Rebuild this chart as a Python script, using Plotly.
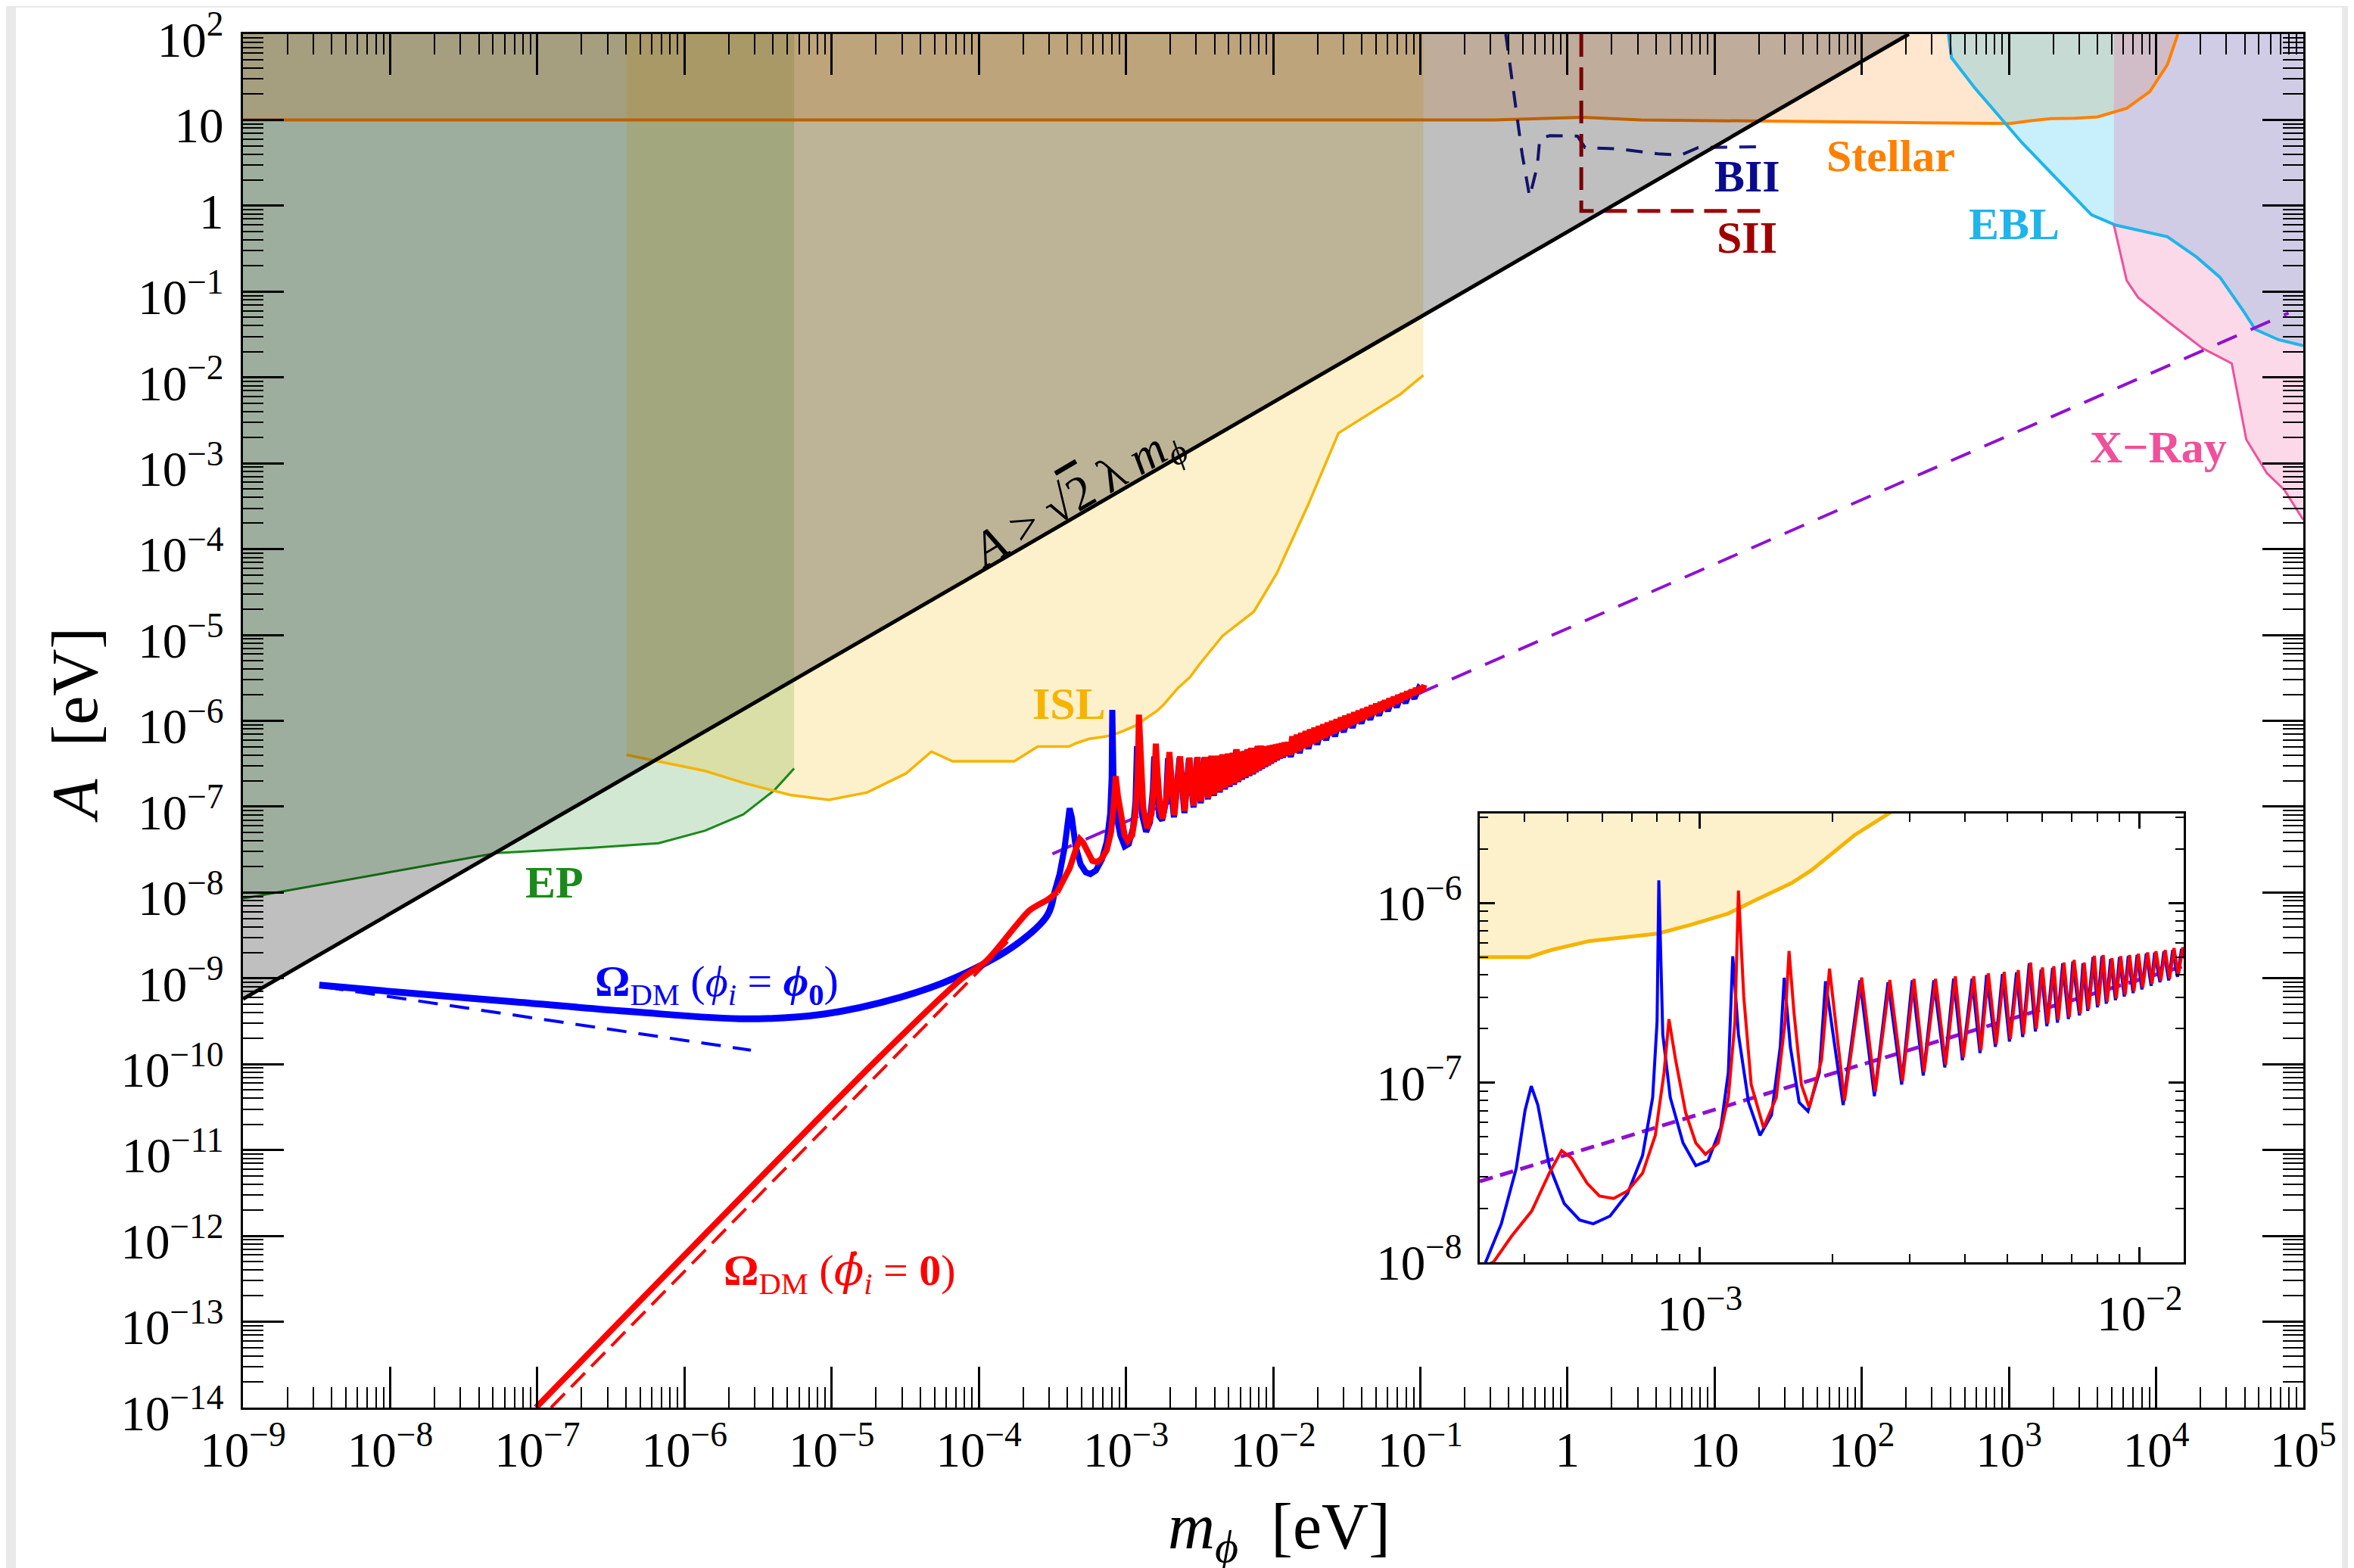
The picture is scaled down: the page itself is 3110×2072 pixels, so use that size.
import numpy as np
import plotly.graph_objects as go

# ---------------- data (log10 values) ----------------
BOUND_LOG_M = [-9.0, 2.32]
BOUND_LOG_A = [-9.24, 2.0]

EP_LOG_M = [-9.0, -7.277, -6.647, -6.176, -5.86, -5.60, -5.39, -5.255]
EP_LOG_A = [-8.07, -7.54, -7.48, -7.425, -7.28, -7.09, -6.81, -6.555]

ISL_LOG_M = [-6.394, -6.172, -5.859, -5.597, -5.281, -5.019, -4.758, -4.494, -4.322, -4.178,
             -3.759, -3.60, -3.388, -3.337, -3.25, -3.164, -3.096, -3.021, -2.935, -2.877,
             -2.791, -2.746, -2.648, -2.564, -2.502, -2.343, -2.131, -1.974, -1.765, -1.556,
             -1.138, -0.979]
ISL_LOG_A = [-6.397, -6.472, -6.584, -6.724, -6.864, -6.922, -6.834, -6.612, -6.359, -6.472,
             -6.472, -6.30, -6.30, -6.26, -6.21, -6.19, -6.169, -6.12, -6.057, -5.987,
             -5.887, -5.816, -5.62, -5.49, -5.345, -5.010, -4.728, -4.279, -3.495, -2.649,
             -2.198, -1.974]

STELLAR_LOG_M = [-9.0, -0.5, 0.1, 0.5, 2.0, 2.85, 3.007, 3.15, 3.284, 3.45, 3.603, 3.80, 3.957, 4.077, 4.148]
STELLAR_LOG_A = [1.0, 1.0, 1.03, 1.0, 0.975, 0.96, 0.957, 0.99, 1.016, 1.02, 1.035, 1.135, 1.33, 1.645, 2.0]

EBL_LOG_M = [2.589, 2.61, 2.769, 2.927, 3.086, 3.284, 3.443, 3.561, 3.72, 4.077, 4.275, 4.434, 4.593, 4.674, 4.832, 5.0]
EBL_LOG_A = [2.0, 1.724, 1.371, 1.056, 0.740, 0.387, 0.111, -0.106, -0.223, -0.361, -0.597, -0.833, -1.226, -1.44, -1.561, -1.63]

XRAY_LOG_M = [3.713, 3.713, 3.80, 3.878, 4.077, 4.315, 4.514, 4.613, 4.753, 4.872, 5.0]
XRAY_LOG_A = [2.0, -0.223, -0.871, -1.069, -1.345, -1.66, -1.836, -2.722, -3.115, -3.311, -3.66]

BII_LOG_M = [-0.419, -0.342, -0.308, -0.257, -0.205, -0.188, -0.12, 0.068, 0.12, 0.342, 0.616, 0.77, 0.889, 1.317]
BII_LOG_A = [2.0, 1.075, 0.605, 0.106, 0.458, 0.781, 0.817, 0.811, 0.678, 0.663, 0.605, 0.590, 0.678, 0.687]

SII_LOG_M = [0.094, 0.094, 1.334]
SII_LOG_A = [2.0, -0.06, -0.06]

PURPLE_LOG_M = [-3.50, 4.90]
PURPLE_LOG_A = [-7.55, -1.25]

BLUE_DASH_LOG_M = [-8.45, -5.549]
BLUE_DASH_LOG_A = [-9.10, -9.837]

RED_DASH_LOG_M = [-6.907, -3.78]
RED_DASH_LOG_A = [-14.0, -8.53]

# smooth (non-oscillating) parts of the two relic-abundance curves
BLUE_SMOOTH_LOG_M = [-8.482, -7.932, -7.147, -6.362, -5.576, -5.052, -4.529, -4.162, -3.743, -3.534, -3.49]
BLUE_SMOOTH_LOG_A = [-9.078, -9.163, -9.275, -9.388, -9.472, -9.416, -9.219, -8.995, -8.601, -8.264, -8.02]
RED_SMOOTH_LOG_M = [-7.009, -4.686, -4.11, -3.951, -3.743, -3.653, -3.53, -3.468]
RED_SMOOTH_LOG_A = [-14.0, -9.938, -8.995, -8.80, -8.376, -8.205, -8.08, -7.997]

# oscillating parts
BLUE_OSC_LOG_M = [-3.49,
              -3.451, -3.417, -3.397, -3.383, -3.368, -3.342, -3.308, -3.273, -3.242, -3.204, -3.164,
              -3.13, -3.107, -3.097, -3.093, -3.084, -3.067, -3.038, -3.009, -2.981, -2.952, -2.935,
              -2.925, -2.912, -2.889, -2.863, -2.837, -2.817, -2.808, -2.794, -2.774, -2.754, -2.728,
              -2.714, -2.674, -2.636, -2.603, -2.572, -2.541, -2.517, -2.492, -2.468, -2.443, -2.423,
              -2.403, -2.381, -2.363, -2.348, -2.328, -2.312, -2.296, -2.28, -2.266, -2.251, -2.237,
              -2.224, -2.211, -2.198, -2.187, -2.175, -2.162, -2.152, -2.137, -2.129, -2.118, -2.106,
              -2.096, -2.086, -2.076, -2.066, -2.055, -2.046, -2.035, -2.026, -2.015, -2.006, -1.995,
              -1.985, -1.974, -1.966, -1.954, -1.945, -1.934, -1.925, -1.914, -1.905,
              -1.88, -1.85, -1.82, -1.79, -1.76, -1.73, -1.70, -1.67, -1.64, -1.61, -1.58, -1.55,
              -1.52, -1.49, -1.46, -1.43, -1.40, -1.37, -1.34, -1.31, -1.28, -1.25, -1.22, -1.19,
              -1.16, -1.13, -1.10, -1.07, -1.04, -1.01, -0.985]
BLUE_OSC_LOG_A = [-8.02,
              -7.786, -7.476, -7.153, -7.019, -7.124, -7.462, -7.673, -7.765, -7.786, -7.743, -7.617,
              -7.406, -7.082, -6.66, -5.872, -6.731, -7.082, -7.335, -7.462, -7.434, -7.251, -6.942,
              -6.295, -6.731, -7.11, -7.293, -7.181, -6.801, -6.415, -6.801, -7.11, -7.159, -6.942,
              -6.435, -7.124, -6.43, -7.075, -6.44, -7.01, -6.43, -6.96, -6.43, -6.915, -6.42,
              -6.875, -6.42, -6.835, -6.40, -6.80, -6.395, -6.77, -6.385, -6.745, -6.335, -6.715,
              -6.37, -6.685, -6.36, -6.665, -6.335, -6.645, -6.325, -6.625, -6.335, -6.60, -6.30,
              -6.58, -6.295, -6.56, -6.31, -6.54, -6.30, -6.52, -6.295, -6.50, -6.288, -6.48,
              -6.28, -6.46, -6.275, -6.44, -6.268, -6.43, -6.26, -6.41, -6.255,
              -6.42, -6.19, -6.375, -6.15, -6.325, -6.11, -6.275, -6.07, -6.225, -6.03, -6.18, -5.99,
              -6.13, -5.95, -6.08, -5.91, -6.03, -5.87, -5.985, -5.83, -5.935, -5.78, -5.885, -5.74,
              -5.84, -5.70, -5.79, -5.66, -5.74, -5.62, -5.66]

RED_OSC_LOG_M = [-3.468, -3.428, -3.382, -3.342,
             -3.314, -3.291, -3.256, -3.228, -3.196, -3.164, -3.13, -3.101, -3.081, -3.07, -3.055,
             -3.032, -3.009, -2.987, -2.958, -2.935, -2.92, -2.912, -2.9, -2.883, -2.855, -2.826,
             -2.806, -2.797, -2.786, -2.769, -2.751, -2.723, -2.705, -2.671, -2.632, -2.601, -2.568,
             -2.539, -2.513, -2.49, -2.464, -2.441, -2.419, -2.401, -2.377, -2.361, -2.344, -2.326,
             -2.308, -2.294, -2.276, -2.264, -2.248, -2.235, -2.221, -2.209, -2.195, -2.185, -2.172,
             -2.16, -2.149, -2.135, -2.126, -2.116, -2.103, -2.094, -2.083, -2.074, -2.063, -2.053,
             -2.043, -2.033, -2.023, -2.013, -2.003, -1.993, -1.982, -1.972, -1.963, -1.952, -1.942,
             -1.932, -1.922, -1.912, -1.902,
             -1.885, -1.870, -1.855, -1.840, -1.825, -1.810, -1.795, -1.780, -1.765, -1.750,
             -1.735, -1.720, -1.705, -1.690, -1.675, -1.660, -1.645, -1.630, -1.615, -1.600,
             -1.585, -1.570, -1.555, -1.540, -1.525, -1.510, -1.495, -1.480, -1.465, -1.450,
             -1.435, -1.420, -1.405, -1.390, -1.375, -1.360, -1.345, -1.330, -1.315, -1.300,
             -1.285, -1.270, -1.255, -1.240, -1.225, -1.210, -1.195, -1.180, -1.165, -1.150,
             -1.135, -1.120, -1.105, -1.090, -1.075, -1.060, -1.045, -1.030, -1.015, -1.000,
             -0.985, -0.973]
RED_OSC_LOG_A = [-7.997, -7.856, -7.715, -7.504,
             -7.378, -7.42, -7.56, -7.631, -7.645, -7.603, -7.504, -7.293, -6.942, -6.646, -6.871,
             -7.167, -7.335, -7.399, -7.335, -7.082, -6.66, -5.929, -6.519, -7.011, -7.251, -7.082,
             -6.66, -6.266, -6.603, -7.011, -7.138, -6.871, -6.364, -7.10, -6.414, -7.05, -6.428,
             -6.99, -6.421, -6.94, -6.421, -6.90, -6.407, -6.86, -6.407, -6.82, -6.39, -6.785,
             -6.382, -6.755, -6.372, -6.73, -6.33, -6.70, -6.358, -6.67, -6.351, -6.65, -6.33,
             -6.635, -6.316, -6.615, -6.33, -6.59, -6.292, -6.57, -6.288, -6.55, -6.306, -6.53,
             -6.295, -6.51, -6.288, -6.49, -6.281, -6.47, -6.274, -6.45, -6.267, -6.43, -6.26,
             -6.42, -6.25, -6.40, -6.246,
             -6.40, -6.18, -6.37, -6.16, -6.35, -6.14, -6.32, -6.12, -6.30, -6.10,
             -6.27, -6.08, -6.25, -6.06, -6.22, -6.04, -6.20, -6.02, -6.17, -6.00,
             -6.15, -5.98, -6.12, -5.96, -6.10, -5.94, -6.08, -5.92, -6.05, -5.90,
             -6.03, -5.88, -6.00, -5.86, -5.98, -5.84, -5.95, -5.82, -5.93, -5.80,
             -5.90, -5.78, -5.88, -5.76, -5.85, -5.74, -5.83, -5.72, -5.80, -5.70,
             -5.78, -5.68, -5.75, -5.66, -5.73, -5.64, -5.70, -5.62, -5.68, -5.60,
             -5.65, -5.58]

MAIN_X_RANGE = [-9.0003, 5.0003]
MAIN_Y_RANGE = [-14.0003, 2.0003]
INSET_X_RANGE = [-3.5, -1.9]
INSET_Y_RANGE = [-8.0003, -5.5]

LABELS = [  # text, log m, log A, colour
    ("<b>Stellar</b>", 2.196, 0.577, "#ff8000"),
    ("<b>BII</b>", 1.22, 0.344, "#0a0a90"),
    ("<b>SII</b>", 1.22, -0.37, "#a00000"),
    ("<b>EBL</b>", 3.037, -0.211, "#1fb4ea"),
    ("<b>X\u2212Ray</b>", 4.017, -2.815, "#f0509a"),
    ("<b>ISL</b>", -3.386, -5.806, "#f5b400"),
    ("<b>EP</b>", -6.886, -7.885, "#1a8a1a"),
]

# ---------------- helpers ----------------
def p10(a):
    return np.power(10.0, np.asarray(a, dtype=float))

FONT = "Liberation Serif"
PHI = "\u03d5"

def closed(mx, ay, extra_m, extra_a):
    return p10(list(mx) + extra_m), p10(list(ay) + extra_a)

fig = go.Figure()

def add(x, y, xa="x", ya="y", **kw):
    fig.add_trace(go.Scatter(x=x, y=y, xaxis=xa, yaxis=ya, showlegend=False,
                             hoverinfo="skip", **kw))

# ---- filled regions (main) ----
ep_x, ep_y = closed(EP_LOG_M, EP_LOG_A, [EP_LOG_M[-1], EP_LOG_M[0]], [2.0, 2.0])
add(ep_x, ep_y, mode="lines", fill="toself", fillcolor="rgba(34,139,34,0.20)", line=dict(width=0))
isl_x, isl_y = closed(ISL_LOG_M, ISL_LOG_A, [ISL_LOG_M[-1], ISL_LOG_M[0]], [2.0, 2.0])
add(isl_x, isl_y, mode="lines", fill="toself", fillcolor="rgba(245,190,20,0.22)", line=dict(width=0))
st_x, st_y = closed(STELLAR_LOG_M, STELLAR_LOG_A, [STELLAR_LOG_M[0]], [2.0])
add(st_x, st_y, mode="lines", fill="toself", fillcolor="rgba(255,140,30,0.22)", line=dict(width=0))
ebl_x, ebl_y = closed(EBL_LOG_M, EBL_LOG_A, [5.0], [2.0])
add(ebl_x, ebl_y, mode="lines", fill="toself", fillcolor="rgba(0,180,240,0.22)", line=dict(width=0))
xr_x, xr_y = closed(XRAY_LOG_M, XRAY_LOG_A, [5.0], [2.0])
add(xr_x, xr_y, mode="lines", fill="toself", fillcolor="rgba(240,80,154,0.22)", line=dict(width=0))

# ---- boundary lines ----
add(p10(EP_LOG_M), p10(EP_LOG_A), mode="lines", line=dict(color="#1a8a1a", width=3))
add(p10(ISL_LOG_M), p10(ISL_LOG_A), mode="lines", line=dict(color="#f5b400", width=3.5))
add(p10(STELLAR_LOG_M), p10(STELLAR_LOG_A), mode="lines", line=dict(color="#ff8000", width=4))
add(p10(EBL_LOG_M), p10(EBL_LOG_A), mode="lines", line=dict(color="#1fb4ea", width=4))
add(p10(XRAY_LOG_M[1:]), p10(XRAY_LOG_A[1:]), mode="lines", line=dict(color="#f0509a", width=3))
add(p10(BII_LOG_M), p10(BII_LOG_A), mode="lines", line=dict(color="#1a1a8c", width=4, dash="22px,16px"))
add(p10(SII_LOG_M), p10(SII_LOG_A), mode="lines", line=dict(color="#a00000", width=5, dash="30px,14px"))

# ---- excluded region A > sqrt(2) lambda m ----
gx, gy = closed(BOUND_LOG_M, BOUND_LOG_A, [BOUND_LOG_M[0]], [2.0])
add(gx, gy, mode="lines", fill="toself", fillcolor="rgba(0,0,0,0.25)", line=dict(width=0))
add(p10(BOUND_LOG_M), p10(BOUND_LOG_A), mode="lines", line=dict(color="black", width=5))

# ---- purple scaling line and analytic dashed lines ----
add(p10(PURPLE_LOG_M), p10(PURPLE_LOG_A), mode="lines", line=dict(color="#9010d0", width=4, dash="28px,20px"))
add(p10(BLUE_DASH_LOG_M), p10(BLUE_DASH_LOG_A), mode="lines", line=dict(color="#0000ff", width=4, dash="26px,16px"))
add(p10(RED_DASH_LOG_M), p10(RED_DASH_LOG_A), mode="lines", line=dict(color="#ff0000", width=4, dash="26px,12px"))

# ---- relic abundance curves ----
add(p10(BLUE_SMOOTH_LOG_M), p10(BLUE_SMOOTH_LOG_A), mode="lines",
    line=dict(color="#0000ff", width=9, shape="spline", smoothing=1.0))
add(p10(BLUE_OSC_LOG_M), p10(BLUE_OSC_LOG_A), mode="lines", line=dict(color="#0000ff", width=8))
add(p10(RED_SMOOTH_LOG_M), p10(RED_SMOOTH_LOG_A), mode="lines",
    line=dict(color="#ff0000", width=8, shape="spline", smoothing=0.8))
add(p10(RED_OSC_LOG_M), p10(RED_OSC_LOG_A), mode="lines", line=dict(color="#ff0000", width=8))

# ---- inset ----
add(isl_x, isl_y, "x2", "y2", mode="lines", fill="toself", fillcolor="rgba(245,190,20,0.22)", line=dict(width=0))
add(p10(ISL_LOG_M), p10(ISL_LOG_A), "x2", "y2", mode="lines", line=dict(color="#f5b400", width=5))
add(p10(PURPLE_LOG_M), p10(PURPLE_LOG_A), "x2", "y2", mode="lines", line=dict(color="#9010d0", width=5, dash="18px,10px"))
add(p10(BLUE_SMOOTH_LOG_M), p10(BLUE_SMOOTH_LOG_A), "x2", "y2", mode="lines", line=dict(color="#0000ff", width=4))
add(p10(BLUE_OSC_LOG_M), p10(BLUE_OSC_LOG_A), "x2", "y2", mode="lines", line=dict(color="#0000ff", width=4))
add(p10(RED_SMOOTH_LOG_M), p10(RED_SMOOTH_LOG_A), "x2", "y2", mode="lines", line=dict(color="#ff0000", width=4))
add(p10(RED_OSC_LOG_M), p10(RED_OSC_LOG_A), "x2", "y2", mode="lines", line=dict(color="#ff0000", width=4))

# ---------------- layout ----------------
def axis(rng, ticklen, minorlen, size, **kw):
    return dict(type="log", range=rng, dtick=1, tick0=0, exponentformat="power",
                showgrid=False, zeroline=False, showline=True, linecolor="black", linewidth=3,
                mirror="allticks", ticks="inside", ticklen=ticklen, tickwidth=2.5, tickcolor="black",
                ticklabeloverflow="allow", automargin=False,
                minor=dict(ticks="inside", ticklen=minorlen, tickwidth=1.8, tickcolor="black",
                           dtick="D1", showgrid=False),
                tickfont=dict(family=FONT, size=size, color="black"), **kw)

W, H = 3110, 2072
SHIFT = 8                       # page body offset of the rendered figure
PL, PT, PW, PH = 321, 45, 2722, 1815   # target plot-area box on screen
L, T = PL - SHIFT, PT - SHIFT
R, B = W - L - PW, H - T - PH

def px_x(px):
    return (px - PL) / PW

def px_y(py):
    return (PT + PH - py) / PH

fig.update_layout(
    width=W, height=H,
    margin=dict(l=L, r=R, t=T, b=B, autoexpand=False),
    paper_bgcolor="#e9e9e9", plot_bgcolor="white",
    font=dict(family=FONT, color="black"),
    xaxis=axis(MAIN_X_RANGE, 54, 27, 52, domain=[0, 1], anchor="y", ticklabelstandoff=0),
    yaxis=axis(MAIN_Y_RANGE, 54, 27, 52, domain=[0, 1], anchor="x", ticklabelstandoff=12,
               ticklabelshift=7),
    xaxis2=axis(INSET_X_RANGE, 20, 11, 52, domain=[px_x(1955), px_x(2885)], anchor="y2",
                ticklabelstandoff=12),
    yaxis2=axis(INSET_Y_RANGE, 20, 11, 52, domain=[px_y(1668), px_y(1075)], anchor="x2",
                ticklabelstandoff=10),
    shapes=[dict(type="rect", xref="paper", yref="paper", layer="below",
                 x0=px_x(21), x1=px_x(3094), y0=px_y(2090), y1=px_y(10),
                 fillcolor="white", line=dict(width=0))],
)

DOT_PHI = "<span style='font-family:DejaVu Serif'>" + PHI + "\u0307</span>"

ann = []
for text, lm, la, col in LABELS:
    ann.append(dict(x=lm, y=la, xref="x", yref="y", text=text, showarrow=False,
                    xanchor="center", yanchor="middle",
                    font=dict(family=FONT, size=60, color=col)))
ann.append(dict(x=-3.33, y=-3.40, xref="x", yref="y", showarrow=False, textangle=-30.5,
                xanchor="center", yanchor="middle",
                text="<i>A</i> > √<span style='text-decoration:overline'>2</span> λ <i>m</i><sub><i>" + PHI + "</i></sub>",
                font=dict(family=FONT, size=64, color="black")))
ann.append(dict(x=-5.78, y=-9.07, xref="x", yref="y", showarrow=False,
                xanchor="center", yanchor="middle",
                text="<b>Ω</b><sub>DM</sub> (<i>" + PHI + "<sub>i</sub></i> = <b><i>" + PHI + "</i><sub>0</sub></b>)",
                font=dict(family=FONT, size=58, color="#0000ff")))
ann.append(dict(x=-4.947, y=-12.43, xref="x", yref="y", showarrow=False,
                xanchor="center", yanchor="middle",
                text="<b>Ω</b><sub>DM</sub> (<i>" + DOT_PHI + "<sub>i</sub></i> = <b>0</b>)",
                font=dict(family=FONT, size=58, color="#ff0000")))
ann.append(dict(x=px_x(99), y=px_y(958), xref="paper", yref="paper", showarrow=False,
                xanchor="center", yanchor="middle",
                textangle=-90, text="<i>A</i>  [eV]",
                font=dict(family=FONT, size=86, color="black")))
ann.append(dict(x=px_x(1690), y=px_y(2023), xref="paper", yref="paper", showarrow=False,
                xanchor="center", yanchor="middle",
                text="<i>m</i><sub><i>" + PHI + "</i></sub>  [eV]",
                font=dict(family=FONT, size=86, color="black")))
fig.update_layout(annotations=ann)

fig.write_html("out.html")
